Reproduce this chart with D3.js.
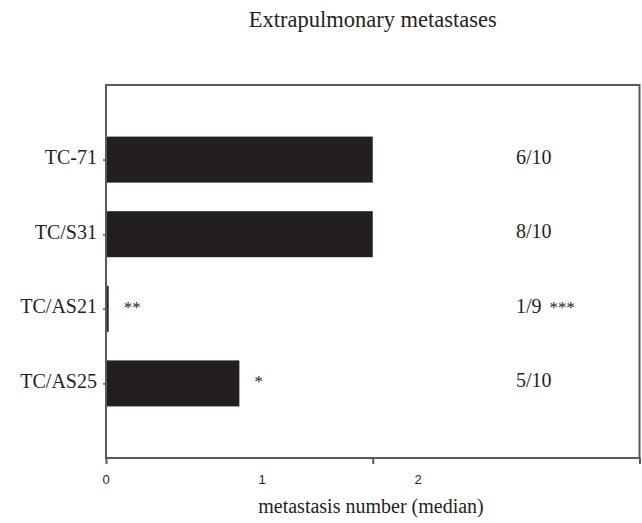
<!DOCTYPE html>
<html>
<head>
<meta charset="utf-8">
<script src="https://cdn.jsdelivr.net/npm/d3@7"></script>
<style>
  html, body { margin: 0; padding: 0; background: #fff; }
  svg { display: block; }
</style>
</head>
<body>
<script>
// ---- data ----
const categories = ["TC-71", "TC/S31", "TC/AS21", "TC/AS25"];
const medians = [1, 1, 0.01, 0.5];
const incidence = ["6/10", "8/10", "1/9", "5/10"];
const barMarks = ["", "", "**", "*"];
const incidenceMarks = ["", "", "***", ""];
const xTicks = [0, 1, 2];
const xTickLabels = ["0", "1", "2"];
const titleText = "Extrapulmonary metastases";
const xTitleText = "metastasis number (median)";

// ---- layout ----
const W = 642, H = 523;
const margin = { top: 85, right: 2.5, bottom: 65, left: 106 };
const ink = "#231f20", lineCol = "#5a5a5a";
const serif = "'Liberation Serif', 'Times New Roman', serif";
const sans = "'Liberation Sans', Arial, sans-serif";

const svg = d3.select("body").append("svg").attr("width", W).attr("height", H);

const x = d3.scaleLinear().domain([0, 2]).range([margin.left, W - margin.right]);
const y = d3.scalePoint().domain(categories).range([margin.top, H - margin.bottom]).padding(1);
// tick labels are set on a tighter spacing in the reference
const xLabel = d3.scaleLinear().domain([0, 2]).range([margin.left, margin.left + 312]);

const data = categories.map((c, i) => ({ c, v: medians[i], inc: incidence[i], m: barMarks[i], im: incidenceMarks[i] }));
const barH = 46;

// bars
svg.append("g").selectAll("rect").data(data).join("rect")
  .attr("x", x(0))
  .attr("y", d => y(d.c) - barH / 2)
  .attr("width", d => Math.max(2.5, x(d.v) - x(0)))
  .attr("height", barH)
  .attr("fill", ink);

// frame
svg.append("rect")
  .attr("x", x(0)).attr("y", margin.top)
  .attr("width", x(2) - x(0)).attr("height", H - margin.bottom - margin.top)
  .attr("fill", "none").attr("stroke", lineCol).attr("stroke-width", 2);

// left axis (ticks + category labels)
const yAxis = svg.append("g").attr("transform", `translate(${x(0)},0)`)
  .call(d3.axisLeft(y).tickSize(3).tickPadding(6));
yAxis.select(".domain").remove();
yAxis.selectAll(".tick line").attr("stroke", lineCol).attr("stroke-width", 1.5);
yAxis.selectAll(".tick text")
  .attr("fill", ink).attr("font-family", serif).attr("font-size", "20px").attr("dy", "0.2em");

// bottom axis tick marks
const xAxis = svg.append("g").attr("transform", `translate(0,${H - margin.bottom})`)
  .call(d3.axisBottom(x).tickValues(xTicks).tickSize(6).tickFormat(""));
xAxis.select(".domain").remove();
xAxis.selectAll(".tick line").attr("stroke", lineCol).attr("stroke-width", 2);

// bottom tick labels
svg.append("g").selectAll("text").data(xTicks).join("text")
  .attr("x", d => xLabel(d))
  .attr("y", H - margin.bottom + 26)
  .attr("text-anchor", "middle")
  .attr("font-family", sans).attr("font-size", "13px").attr("fill", ink)
  .text((d, i) => xTickLabels[i]);

// significance marks next to bars
svg.append("g").selectAll("text").data(data.filter(d => d.m)).join("text")
  .attr("x", d => x(d.v) + 15)
  .attr("y", d => y(d.c) + 4)
  .attr("font-family", serif).attr("font-size", "17px").attr("fill", ink)
  .text(d => d.m);

// incidence labels on the right
const inc = svg.append("g").selectAll("text").data(data).join("text")
  .attr("x", 516)
  .attr("y", d => y(d.c) + 4)
  .attr("font-family", serif).attr("font-size", "20px").attr("fill", ink);
inc.append("tspan").text(d => d.inc);
inc.filter(d => d.im).append("tspan")
  .attr("dx", 8).attr("font-size", "17px").text(d => d.im);

// title
svg.append("text")
  .attr("x", (x(0) + x(2)) / 2).attr("y", 27)
  .attr("text-anchor", "middle")
  .attr("font-family", serif).attr("font-size", "22.5px").attr("fill", ink)
  .text(titleText);

// x axis title
svg.append("text")
  .attr("x", 371).attr("y", 513)
  .attr("text-anchor", "middle")
  .attr("font-family", serif).attr("font-size", "20px").attr("fill", ink)
  .text(xTitleText);
</script>
</body>
</html>
